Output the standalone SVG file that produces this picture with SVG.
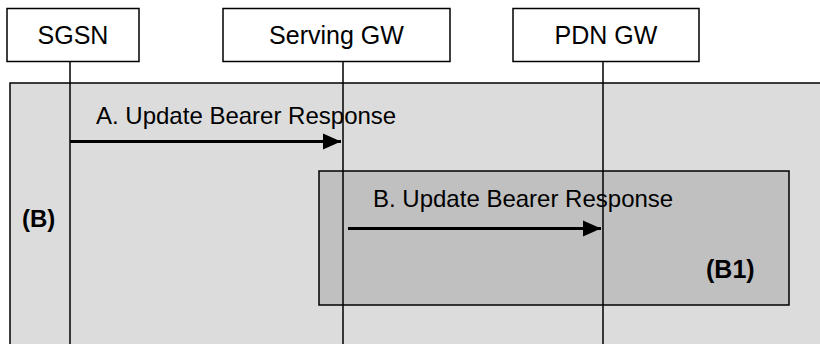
<svg xmlns="http://www.w3.org/2000/svg" width="820" height="344" viewBox="0 0 820 344">
<defs>
<style>
.box{fill:#fff;stroke:#000;stroke-width:1.5}
.t{font-family:"Liberation Sans",Arial,sans-serif;fill:#000}
.life{stroke:#000;stroke-width:1.5;fill:none}
.msg{stroke:#000;stroke-width:3;fill:none}
</style>
<marker id="ah" markerWidth="6" markerHeight="6" refX="6" refY="3" orient="auto" markerUnits="strokeWidth"><path d="M0,0.3 L6,3 L0,5.7 Z" fill="#000"/></marker>
</defs>
<rect width="820" height="344" fill="#fff"/>
<g id="groupB">
<rect x="10" y="83" width="820" height="280" fill="#dcdcdc" stroke="#000" stroke-width="1.5"/>
<text class="t" x="22" y="227" font-size="24" font-weight="bold">(B)</text>
</g>
<g id="groupB1">
<rect x="319" y="171" width="470" height="134" fill="#c0c0c0" stroke="#000" stroke-width="1.5"/>
<text class="t" x="706" y="278" font-size="25" font-weight="bold">(B1)</text>
</g>
<g id="sgsn">
<rect class="box" x="7" y="8.5" width="132" height="53"/>
<text class="t" x="73" y="44" font-size="25" text-anchor="middle">SGSN</text>
</g>
<g id="sgw">
<rect class="box" x="223" y="8.5" width="227" height="53"/>
<text class="t" x="336.5" y="44" font-size="25" text-anchor="middle">Serving GW</text>
</g>
<g id="pgw">
<rect class="box" x="513" y="8.5" width="186" height="53"/>
<text class="t" x="606" y="44" font-size="25" text-anchor="middle">PDN GW</text>
</g>
<g id="connectors">
<line class="life" x1="70" y1="61.5" x2="70" y2="344"/>
<line class="life" x1="343" y1="61.5" x2="343" y2="344"/>
<line class="life" x1="603" y1="61.5" x2="603" y2="344"/>
<line class="msg" x1="70" y1="141.5" x2="341" y2="141.5" marker-end="url(#ah)"/>
<text class="t" x="96" y="124" font-size="24">A. Update Bearer Response</text>
<line class="msg" x1="348" y1="228.5" x2="601" y2="228.5" marker-end="url(#ah)"/>
<text class="t" x="373" y="207" font-size="24">B. Update Bearer Response</text>
</g>
</svg>
